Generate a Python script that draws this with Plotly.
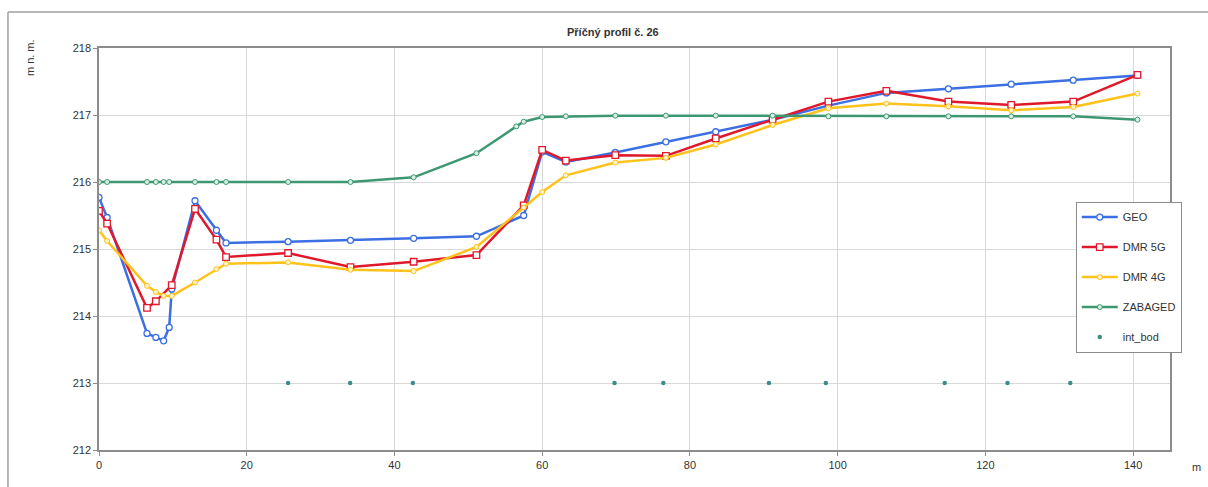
import plotly.graph_objects as go

# ---- data ----
x_geo = [0, 1.1, 6.5, 7.7, 8.75, 9.5, 9.85, 13, 15.9, 17.2, 25.6, 34.05, 42.6, 51.1, 57.5, 60,
         63.2, 69.9, 76.75, 83.5, 91.2, 98.75, 106.6, 115, 123.5, 131.9, 140.6]
y_geo = [215.77, 215.47, 213.74, 213.68, 213.63, 213.83, 214.4, 215.72, 215.28, 215.09, 215.11,
         215.13, 215.16, 215.19, 215.5, 216.45, 216.3, 216.44, 216.6, 216.75, 216.93, 217.14,
         217.33, 217.39, 217.46, 217.52, 217.59]

x_5g = [0, 1.1, 6.5, 7.7, 9.85, 13, 15.9, 17.2, 25.6, 34.05, 42.6, 51.1, 57.5, 60, 63.2, 69.9,
        76.75, 83.5, 91.2, 98.75, 106.6, 115, 123.5, 131.9, 140.6]
y_5g = [215.57, 215.38, 214.12, 214.22, 214.46, 215.6, 215.14, 214.88, 214.94, 214.73, 214.81,
        214.91, 215.65, 216.48, 216.32, 216.4, 216.39, 216.65, 216.93, 217.2, 217.36, 217.2,
        217.15, 217.2, 217.6]

x_4g = [0, 1.1, 6.5, 7.7, 8.75, 9.85, 13, 15.9, 17.2, 25.6, 34.05, 42.6, 51.1, 57.5, 60, 63.2,
        69.9, 76.75, 83.5, 91.2, 98.75, 106.6, 115, 123.5, 131.9, 140.6]
y_4g = [215.28, 215.12, 214.45, 214.36, 214.3, 214.3, 214.5, 214.7, 214.78, 214.8, 214.69,
        214.67, 215.03, 215.62, 215.85, 216.1, 216.29, 216.36, 216.56, 216.85, 217.1, 217.17,
        217.13, 217.07, 217.12, 217.32]

x_zab = [0, 1.1, 6.5, 7.7, 8.75, 9.5, 13, 15.9, 17.2, 25.6, 34.05, 42.6, 51.1, 56.5, 57.5, 60,
         63.2, 69.9, 76.75, 83.5, 91.2, 98.75, 106.6, 115, 123.5, 131.9, 140.6]
y_zab = [216, 216, 216, 216, 216, 216, 216, 216, 216, 216, 216, 216.07, 216.43, 216.83, 216.9,
         216.97, 216.98, 216.99, 216.99, 216.99, 216.99, 216.98, 216.98, 216.98, 216.98, 216.98,
         216.93]

x_int = [25.6, 34.0, 42.5, 69.8, 76.4, 90.7, 98.4, 114.5, 123.0, 131.5]
y_int = [213] * len(x_int)

x_ticks = [0, 20, 40, 60, 80, 100, 120, 140]
y_ticks = [212, 213, 214, 215, 216, 217, 218]

FONT = "Liberation Sans, Arial, sans-serif"

fig = go.Figure()
fig.add_trace(go.Scatter(x=x_geo, y=y_geo, name="GEO", mode="lines+markers", legendgroup="a",
                         line=dict(color="#3b6fe3", width=2.5),
                         marker=dict(symbol="circle", size=6, color="white",
                                     line=dict(color="#3b6fe3", width=1.3))))
fig.add_trace(go.Scatter(x=x_5g, y=y_5g, name="DMR 5G", mode="lines+markers", legendgroup="b",
                         line=dict(color="#e0182c", width=2.5),
                         marker=dict(symbol="square", size=6.5, color="white",
                                     line=dict(color="#e0182c", width=1.3))))
fig.add_trace(go.Scatter(x=x_4g, y=y_4g, name="DMR 4G", mode="lines+markers", legendgroup="c",
                         line=dict(color="#ffc21a", width=2.5),
                         marker=dict(symbol="circle", size=5, color="#fff4c8",
                                     line=dict(color="#ffc21a", width=1))))
fig.add_trace(go.Scatter(x=x_zab, y=y_zab, name="ZABAGED", mode="lines+markers", legendgroup="d",
                         line=dict(color="#3d9872", width=2.5),
                         marker=dict(symbol="circle", size=5, color="#d8eee2",
                                     line=dict(color="#3d9872", width=1))))
fig.add_trace(go.Scatter(x=x_int, y=y_int, name="int_bod", mode="markers", legendgroup="e",
                         marker=dict(symbol="circle", size=4.5, color="#3d8c8c")))

fig.update_layout(
    width=1208, height=487,
    margin=dict(l=99, r=38, t=48, b=37),
    paper_bgcolor="white", plot_bgcolor="white",
    font=dict(family=FONT, size=11, color="#333333"),
    showlegend=True,
    legend=dict(x=0.912, y=0.618, xanchor="left", yanchor="top",
                bgcolor="white", bordercolor="#8c8c8c", borderwidth=1,
                font=dict(size=11, color="#333333"), tracegroupgap=11,
                traceorder="grouped", itemwidth=36,
                entrywidth=100, entrywidthmode="pixels"),
    xaxis=dict(range=[0, 145], tickvals=x_ticks, showgrid=True, gridcolor="#d9d9d9",
               gridwidth=1, zeroline=False, showline=True, linecolor="#8c8c8c", linewidth=1.5,
               mirror=True, ticks="outside", ticklen=4, tickcolor="#8c8c8c",
               tickfont=dict(size=11, color="#333333")),
    yaxis=dict(range=[212, 218], tickvals=y_ticks, showgrid=True, gridcolor="#d9d9d9",
               gridwidth=1, zeroline=False, showline=True, linecolor="#8c8c8c", linewidth=1.5,
               mirror=True, ticks="outside", ticklen=4, tickcolor="#8c8c8c",
               tickfont=dict(size=11, color="#333333")),
    annotations=[
        dict(text="<b>Příčný profil č. 26</b>", xref="paper", yref="paper", x=0.48, y=1.04,
             showarrow=False, font=dict(size=11, color="#333333"), xanchor="center",
             yanchor="middle"),
        dict(text="m n. m.", xref="paper", yref="paper", x=-0.0644, y=0.975, textangle=-90,
             showarrow=False, font=dict(size=11, color="#333333"), xanchor="center",
             yanchor="middle"),
        dict(text="m", xref="paper", yref="paper", x=1.025, y=-0.042, showarrow=False,
             font=dict(size=11, color="#333333"), xanchor="center", yanchor="middle"),
    ],
    shapes=[
        dict(type="line", xref="paper", yref="paper", x0=-0.085, x1=-0.085, y0=-0.1, y1=1.0896,
             line=dict(color="#a0a0a0", width=1.5)),
        dict(type="line", xref="paper", yref="paper", x0=-0.085, x1=1.04, y0=1.0896, y1=1.0896,
             line=dict(color="#a0a0a0", width=1.5)),
    ],
)

fig.write_html("out.html", config={"displayModeBar": False},
               post_script="document.body.style.margin='0px';")
